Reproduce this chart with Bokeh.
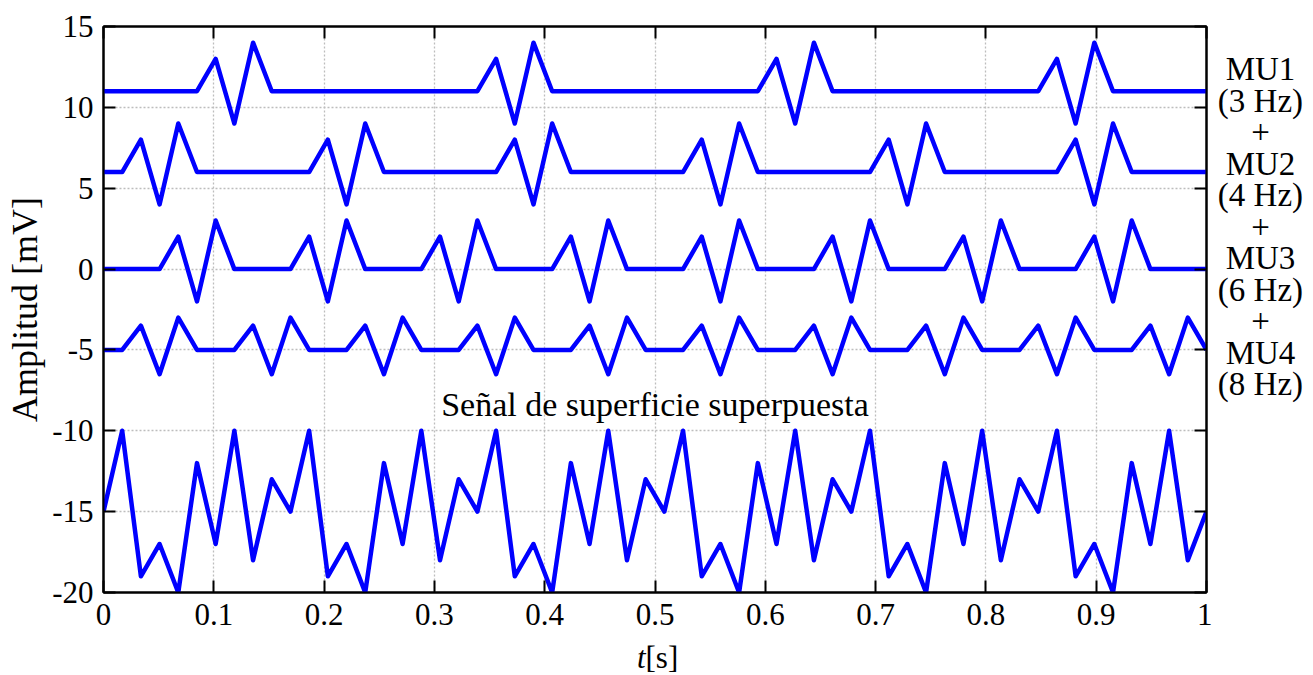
import numpy as np
from bokeh.plotting import figure
from bokeh.models import (FixedTicker, LinearAxis, Label, Range1d, ColumnDataSource,
                          CustomLabelingPolicy)
from bokeh.layouts import row, column
from bokeh.core.properties import value
from bokeh.embed import file_html
from bokeh.resources import INLINE

# ---------------- data ----------------
T = list(np.linspace(0.0, 1.0, 60))  # sampling instants [s]

MU1 = [11, 11, 11, 11, 11, 11, 13, 9, 14, 11,
       11, 11, 11, 11, 11, 11, 11, 11, 11, 11,
       11, 13, 9, 14, 11, 11, 11, 11, 11, 11,
       11, 11, 11, 11, 11, 11, 13, 9, 14, 11,
       11, 11, 11, 11, 11, 11, 11, 11, 11, 11,
       11, 13, 9, 14, 11, 11, 11, 11, 11, 11]

MU2 = [6, 6, 8, 4, 9, 6, 6, 6, 6, 6,
       6, 6, 8, 4, 9, 6, 6, 6, 6, 6,
       6, 6, 8, 4, 9, 6, 6, 6, 6, 6,
       6, 6, 8, 4, 9, 6, 6, 6, 6, 6,
       6, 6, 8, 4, 9, 6, 6, 6, 6, 6,
       6, 6, 8, 4, 9, 6, 6, 6, 6, 6]

MU3 = [0, 0, 0, 0, 2, -2, 3, 0, 0, 0,
       0, 2, -2, 3, 0, 0, 0, 0, 2, -2,
       3, 0, 0, 0, 0, 2, -2, 3, 0, 0,
       0, 0, 2, -2, 3, 0, 0, 0, 0, 2,
       -2, 3, 0, 0, 0, 0, 2, -2, 3, 0,
       0, 0, 0, 2, -2, 3, 0, 0, 0, 0]

MU4 = [-5, -5, -3.5, -6.5, -3, -5, -5, -5, -3.5, -6.5,
       -3, -5, -5, -5, -3.5, -6.5, -3, -5, -5, -5,
       -3.5, -6.5, -3, -5, -5, -5, -3.5, -6.5, -3, -5,
       -5, -5, -3.5, -6.5, -3, -5, -5, -5, -3.5, -6.5,
       -3, -5, -5, -5, -3.5, -6.5, -3, -5, -5, -5,
       -3.5, -6.5, -3, -5, -5, -5, -3.5, -6.5, -3, -5]

SUPERPOSED = [-15, -10, -19, -17, -20, -12, -17, -10, -18, -13,
              -15, -10, -19, -17, -20, -12, -17, -10, -18, -13,
              -15, -10, -19, -17, -20, -12, -17, -10, -18, -13,
              -15, -10, -19, -17, -20, -12, -17, -10, -18, -13,
              -15, -10, -19, -17, -20, -12, -17, -10, -18, -13,
              -15, -10, -19, -17, -20, -12, -17, -10, -18, -15]

XTICKS = [0.0, 0.1, 0.2, 0.3, 0.4, 0.5, 0.6, 0.7, 0.8, 0.9, 1.0]
XTICK_LABELS = ["0", "0.1", "0.2", "0.3", "0.4", "0.5", "0.6", "0.7", "0.8", "0.9", "1"]
YTICKS = [-20, -15, -10, -5, 0, 5, 10, 15]
YTICK_LABELS = ["-20", "-15", "-10", "-5", "0", "5", "10", "15"]

RIGHT_TEXT = ["MU1", "(3 Hz)", "+", "MU2", "(4 Hz)", "+",
              "MU3", "(6 Hz)", "+", "MU4", "(8 Hz)"]
CENTER_TEXT = "Señal de superficie superpuesta"
YLABEL = "Amplitud [mV]"
XLABEL_VAR = "t"
XLABEL_UNIT = "[s]"

# ---------------- styling ----------------
FONT = "Liberation Serif"
BLUE = "#0000ff"
MAIN_W = 1212
MAIN_H = 638

p = figure(width=MAIN_W, height=MAIN_H, title=None,
           x_range=Range1d(0, 1), y_range=Range1d(-20, 15),
           output_backend="svg", toolbar_location=None,
           min_border_left=103, min_border_right=6,
           min_border_top=26, min_border_bottom=46)
p.background_fill_color = "white"
p.border_fill_color = "white"
p.outline_line_color = "black"
p.outline_line_width = 2

for ys in (MU1, MU2, MU3, MU4, SUPERPOSED):
    src = ColumnDataSource(dict(t=T, v=ys))
    p.line("t", "v", source=src, line_color=BLUE, line_width=4.5, line_join="round")

# main axes
xa = p.xaxis[0]
xa.ticker = FixedTicker(ticks=XTICKS)
xa.major_label_overrides = dict(zip(XTICKS, XTICK_LABELS))
ya = p.yaxis[0]
ya.ticker = FixedTicker(ticks=YTICKS)
ya.major_label_overrides = dict(zip(YTICKS, YTICK_LABELS))
ya.axis_label = YLABEL

for ax in (xa, ya):
    ax.major_tick_in = 12
    ax.major_tick_out = 0
    ax.minor_tick_line_color = None
    ax.axis_line_width = 2
    ax.major_tick_line_width = 2
    ax.major_label_text_font = FONT
    ax.major_label_text_font_size = "31px"
    ax.major_label_text_color = "black"
    ax.axis_label_text_font = FONT
    ax.axis_label_text_font_size = "36px"
    ax.axis_label_text_font_style = "normal"
    ax.axis_label_text_color = "black"

xa.major_label_standoff = 11
ya.major_label_standoff = 10
ya.axis_label_standoff = 4

# mirror axes (ticks only, labels suppressed)
top = LinearAxis(ticker=FixedTicker(ticks=XTICKS))
right = LinearAxis(ticker=FixedTicker(ticks=YTICKS))
for ax in (top, right):
    ax.major_tick_in = 12
    ax.major_tick_out = 0
    ax.minor_tick_line_color = None
    ax.axis_line_width = 2
    ax.major_tick_line_width = 2
    ax.major_label_text_font_size = "1px"
    ax.major_label_standoff = 0
    ax.major_label_policy = CustomLabelingPolicy(code="return []")
p.add_layout(top, "above")
p.add_layout(right, "right")

# grid
for g in (p.xgrid[0], p.ygrid[0]):
    g.grid_line_color = "#bdbdbd"
    g.grid_line_width = 1.3
    g.grid_line_dash = "2 2"

# center annotation (inside the frame)
p.add_layout(Label(x=0.5, y=-8.4, text=CENTER_TEXT, text_align="center",
                   text_baseline="alphabetic", text_font=FONT,
                   text_font_size="34px", text_color="black"))

# ---- strip below: x axis label  t[s]  (t italic) ----
pb = figure(width=MAIN_W, height=675 - MAIN_H, title=None,
            x_range=p.x_range, y_range=Range1d(0, 1),
            output_backend="svg", toolbar_location=None,
            x_axis_type=None, y_axis_type=None,
            min_border_left=103, min_border_right=6,
            min_border_top=0, min_border_bottom=0)
pb.outline_line_color = None
pb.grid.visible = False
pb.text(x=[0.4914], y=[0.5], text=[XLABEL_VAR], text_align="right",
        text_baseline="middle", text_font=value(FONT), text_font_size="31px",
        text_font_style="italic", text_color="black")
pb.text(x=[0.4914], y=[0.5], text=[XLABEL_UNIT], text_align="left",
        text_baseline="middle", text_font=value(FONT), text_font_size="31px",
        text_color="black")

# ---- strip right: MU annotations ----
pr = figure(width=1313 - MAIN_W, height=675, title=None,
            x_range=Range1d(0, 1), y_range=p.y_range,
            output_backend="svg", toolbar_location=None,
            x_axis_type=None, y_axis_type=None,
            min_border_left=0, min_border_right=0,
            min_border_top=26, min_border_bottom=83)
pr.outline_line_color = None
pr.grid.visible = False
y0 = 12.35
step = 1.948
rsrc = ColumnDataSource(dict(x=[0.475] * len(RIGHT_TEXT),
                             y=[y0 - i * step for i in range(len(RIGHT_TEXT))],
                             text=RIGHT_TEXT))
pr.text("x", "y", text="text", source=rsrc, text_align="center",
        text_baseline="alphabetic", text_font=value(FONT), text_font_size="33px",
        text_color="black")

layout = row(column(p, pb), pr)
open("out.html", "w").write(file_html(layout, INLINE))
